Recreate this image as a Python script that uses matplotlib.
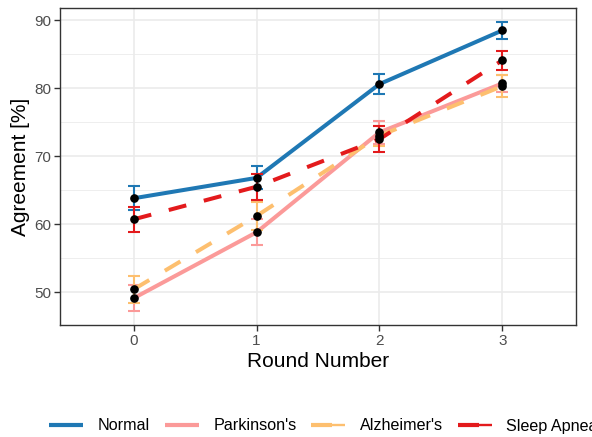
import matplotlib
matplotlib.use("Agg")
import matplotlib.pyplot as plt
from matplotlib.lines import Line2D
from matplotlib.legend_handler import HandlerBase

plt.rcParams['font.family'] = ['Liberation Sans', 'DejaVu Sans']

rounds = [0, 1, 2, 3]
groups = ["Normal", "Parkinson's", "Alzheimer's", "Sleep Apnea"]
colors = ["#1F78B4", "#FB9A99", "#FDBF6F", "#E31A1C"]
styles = ["solid", "solid", "dashed", "dashed"]

normal_mean = [63.8, 66.8, 80.6, 88.5]
normal_err = [1.8, 1.7, 1.5, 1.2]
parkinsons_mean = [49.1, 58.8, 73.5, 80.7]
parkinsons_err = [1.9, 1.9, 1.7, 1.2]
alzheimers_mean = [50.4, 61.2, 73.0, 80.3]
alzheimers_err = [2.0, 2.0, 1.5, 1.6]
sleep_apnea_mean = [60.7, 65.5, 72.5, 84.1]
sleep_apnea_err = [1.8, 1.9, 1.9, 1.4]

means = [normal_mean, parkinsons_mean, alzheimers_mean, sleep_apnea_mean]
errs = [normal_err, parkinsons_err, alzheimers_err, sleep_apnea_err]


class DashKey(HandlerBase):
    """Legend key for dashed series: a thick dash followed by a thin stroke."""

    def create_artists(self, legend, orig_handle, xdescent, ydescent,
                       width, height, fontsize, trans):
        c = orig_handle.get_color()
        y = height / 2 - ydescent
        x0 = -xdescent
        xs = x0 + 0.62 * width
        thick = Line2D([x0, xs], [y, y], color=c, lw=3.0,
                       solid_capstyle="butt", transform=trans)
        thin = Line2D([xs, x0 + width], [y, y], color=c, lw=1.7,
                      solid_capstyle="butt", transform=trans)
        return [thick, thin]


fig = plt.figure(figsize=(5.92, 4.37), dpi=100)
ax = fig.add_axes([60 / 592, 1 - 325 / 437, (576 - 60) / 592, (325 - 8) / 437])

# grid
for v in [45, 55, 65, 75, 85]:
    ax.axhline(v, color="#EBEBEB", lw=0.6, zorder=0)
for v in [50, 60, 70, 80, 90]:
    ax.axhline(v, color="#EBEBEB", lw=1.2, zorder=0)
for v in rounds:
    ax.axvline(v, color="#EBEBEB", lw=1.2, zorder=0)

handles = []
handler_map = {}
for i, (g, c, ls, m, e) in enumerate(zip(groups, colors, styles, means, errs)):
    ax.errorbar(rounds, m, yerr=e, fmt="none", ecolor=c, elinewidth=1.5,
                capsize=4.3, capthick=1.5, zorder=2 + i)
    line, = ax.plot(rounds, m, color=c, lw=2.9, zorder=2 + i, label=g)
    key = Line2D([0], [0], color=c, lw=3.0, solid_capstyle="butt")
    if ls == "dashed":
        line.set_dashes((4.5, 4.5))
        handler_map[key] = DashKey()
    handles.append(key)
for m in means:
    ax.plot(rounds, m, "o", color="black", ms=5.2, zorder=10)

ax.set_xlim(-0.6, 3.6)
ax.set_ylim(45.15, 91.8)
ax.set_xticks(rounds)
ax.set_yticks([50, 60, 70, 80, 90])
ax.tick_params(axis="both", colors="#333333", length=4.0, width=1.0,
               labelsize=11, labelcolor="#4D4D4D", pad=2.5)
for s in ax.spines.values():
    s.set_color("#333333")
    s.set_linewidth(1.0)
ax.set_xlabel("Round Number", fontsize=15, labelpad=3)
ax.set_ylabel("Agreement [%]", fontsize=15, labelpad=3)

leg = fig.legend(handles, groups, loc="center left", ncol=4,
                 bbox_to_anchor=(34.5 / 592, 1 - 426 / 437), frameon=False,
                 fontsize=11.6, handlelength=2.11, handletextpad=0.91,
                 columnspacing=0.91, handler_map=handler_map)

fig.savefig("out.png", dpi=100)
